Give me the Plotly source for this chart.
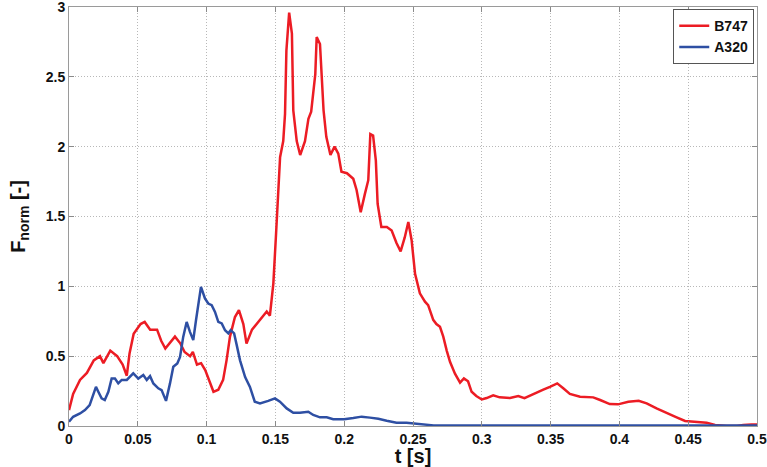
import plotly.graph_objects as go

# ---- data ----
b747_t = [0, 0.003, 0.008, 0.013, 0.018, 0.0225, 0.025, 0.03, 0.035, 0.039, 0.042, 0.044, 0.047, 0.052,
          0.055, 0.059, 0.064, 0.067, 0.070, 0.073, 0.077, 0.081, 0.084, 0.088, 0.090, 0.093, 0.096, 0.099,
          0.1025, 0.105, 0.1085, 0.112, 0.1145, 0.117, 0.1206, 0.1235, 0.1267, 0.129, 0.133, 0.1364, 0.141,
          0.1437, 0.146, 0.1485, 0.1505, 0.152, 0.1534, 0.1557, 0.157, 0.158, 0.160, 0.162, 0.163, 0.1655,
          0.168, 0.1715, 0.174, 0.176, 0.179, 0.180, 0.1824, 0.185, 0.187, 0.190, 0.193, 0.1957, 0.198, 0.202,
          0.2066, 0.209, 0.212, 0.215, 0.2175, 0.219, 0.221, 0.223, 0.2243, 0.227, 0.231, 0.2345, 0.238, 0.241,
          0.244, 0.2466, 0.249, 0.2515, 0.255, 0.2587, 0.261, 0.2647, 0.267, 0.2696, 0.272, 0.2745, 0.2769,
          0.2805, 0.2842, 0.287, 0.290, 0.2926, 0.296, 0.300, 0.3035, 0.3083, 0.313, 0.3205, 0.3265, 0.331,
          0.3374, 0.3447, 0.3495, 0.3548, 0.3592, 0.364, 0.3714, 0.381, 0.386, 0.393, 0.399, 0.4065, 0.414,
          0.4198, 0.427, 0.4355, 0.4416, 0.4477, 0.456, 0.4634, 0.4695, 0.478, 0.4855, 0.490, 0.496, 0.5]
b747_f = [0.114, 0.23, 0.33, 0.38, 0.47, 0.50, 0.45, 0.54, 0.50, 0.44, 0.36, 0.52, 0.66, 0.73,
          0.745, 0.69, 0.69, 0.61, 0.555, 0.59, 0.64, 0.59, 0.53, 0.50, 0.53, 0.44, 0.45, 0.40,
          0.305, 0.245, 0.26, 0.33, 0.47, 0.64, 0.78, 0.83, 0.73, 0.59, 0.69, 0.73, 0.78,
          0.82, 0.79, 1.02, 1.38, 1.71, 1.925, 2.04, 2.235, 2.69, 2.96, 2.81, 2.26, 2.04,
          1.94, 2.04, 2.2, 2.25, 2.52, 2.785, 2.735, 2.26, 2.07, 1.94, 2.0, 1.95, 1.82, 1.81,
          1.77, 1.69, 1.53, 1.66, 1.76, 2.09, 2.08, 1.90, 1.59, 1.425, 1.425, 1.40, 1.31, 1.25,
          1.35, 1.46, 1.33, 1.09, 0.95, 0.89, 0.865, 0.76, 0.73, 0.71, 0.64, 0.54, 0.46,
          0.375, 0.31, 0.34, 0.32, 0.245, 0.215, 0.19, 0.20, 0.22, 0.205, 0.20, 0.215, 0.20,
          0.23, 0.26, 0.28, 0.305, 0.27, 0.23, 0.21, 0.205, 0.186, 0.157, 0.155, 0.174, 0.18,
          0.162, 0.126, 0.086, 0.062, 0.036, 0.031, 0.024, 0.007, 0.0, 0.0, 0.007, 0.01, 0.01]

a320_t = [0, 0.003, 0.008, 0.0116, 0.015, 0.0177, 0.0196, 0.0213, 0.0237, 0.026, 0.0286, 0.031, 0.0334,
          0.0358, 0.0383, 0.042, 0.0467, 0.0504, 0.054, 0.0565, 0.0589, 0.0613, 0.0649, 0.0673, 0.0705,
          0.0734, 0.0758, 0.0787, 0.0807, 0.083, 0.0855, 0.0879, 0.0903, 0.0923, 0.094, 0.0959, 0.0988,
          0.1012, 0.1037, 0.1061, 0.1085, 0.111, 0.1134, 0.1158, 0.1175, 0.12, 0.1219, 0.1243, 0.128,
          0.1315, 0.135, 0.1388, 0.1448, 0.1497, 0.1533, 0.1582, 0.163, 0.1678, 0.1739, 0.1775, 0.1824,
          0.1873, 0.192, 0.20, 0.2066, 0.2127, 0.2187, 0.2248, 0.2309, 0.238, 0.2453, 0.2514, 0.2575,
          0.265, 0.30, 0.35, 0.40, 0.45, 0.5]
a320_f = [0.03, 0.066, 0.09, 0.114, 0.15, 0.22, 0.28, 0.245, 0.198, 0.186, 0.245, 0.34, 0.34,
          0.305, 0.33, 0.33, 0.377, 0.34, 0.365, 0.33, 0.357, 0.305, 0.27, 0.257, 0.18,
          0.305, 0.424, 0.448, 0.495, 0.638, 0.745, 0.674, 0.615, 0.757, 0.877, 0.996, 0.913,
          0.877, 0.865, 0.817, 0.745, 0.734, 0.686, 0.663, 0.686, 0.663, 0.579, 0.47, 0.35,
          0.28, 0.174, 0.162, 0.18, 0.198, 0.174, 0.126, 0.095, 0.095, 0.102, 0.079, 0.062,
          0.062, 0.048, 0.048, 0.057, 0.067, 0.06, 0.052, 0.038, 0.024, 0.024, 0.019, 0.012,
          0.004, 0.003, 0.003, 0.003, 0.003, 0.003]

x_ticks = [0, 0.05, 0.1, 0.15, 0.2, 0.25, 0.3, 0.35, 0.4, 0.45, 0.5]
x_tick_labels = ["0", "0.05", "0.1", "0.15", "0.2", "0.25", "0.3", "0.35", "0.4", "0.45", "0.5"]
y_ticks = [0, 0.5, 1, 1.5, 2, 2.5, 3]
y_tick_labels = ["0", "0.5", "1", "1.5", "2", "2.5", "3"]

FONT = "Liberation Sans, Arial, Helvetica, sans-serif"

fig = go.Figure()
fig.add_trace(go.Scatter(x=b747_t, y=b747_f, mode="lines", name="B747",
                         line=dict(color="#ec1c24", width=2.5)))
fig.add_trace(go.Scatter(x=a320_t, y=a320_f, mode="lines", name="A320",
                         line=dict(color="#2e4fa3", width=2.5)))

axis_common = dict(
    showline=True, linecolor="#9a9a9a", linewidth=1, mirror="ticks",
    ticks="inside", ticklen=5, tickcolor="#8a8a8a", tickwidth=1,
    showgrid=True, gridcolor="#b8b8b8", griddash="1px,2px", gridwidth=1,
    zeroline=False, ticklabeloverflow="allow",
    tickfont=dict(family=FONT, size=14, color="#111111", weight="bold"),
)

fig.update_layout(
    width=767, height=467,
    margin=dict(l=69, r=10, t=7, b=41),
    paper_bgcolor="white", plot_bgcolor="white",
    font=dict(family=FONT, color="#111111"),
    xaxis=dict(range=[0, 0.5], tickvals=x_ticks, ticktext=x_tick_labels,
               title=dict(text="t [s]", font=dict(family=FONT, size=20, weight="bold"), standoff=0),
               automargin=False, **axis_common),
    yaxis=dict(range=[0, 3], tickvals=y_ticks, ticktext=y_tick_labels,
               title=dict(text="F<sub>norm</sub> [-]", font=dict(family=FONT, size=20, weight="bold"), standoff=14),
               automargin=False, **axis_common),
    legend=dict(x=0.996, y=0.995, xanchor="right", yanchor="top",
                bgcolor="white", bordercolor="#555555", borderwidth=1,
                font=dict(family=FONT, size=14, weight="bold", color="#111111"),
                itemwidth=30, tracegroupgap=0),
    showlegend=True,
)

fig.write_html("out.html", config={"displayModeBar": False},
               post_script="document.body.style.margin='0';document.body.style.overflow='hidden';")
